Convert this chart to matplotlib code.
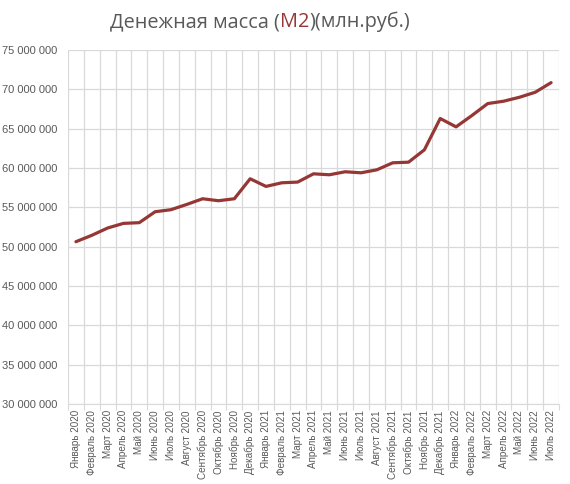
import matplotlib
matplotlib.use("Agg")
import matplotlib.pyplot as plt
from matplotlib.ticker import FuncFormatter, MultipleLocator
import numpy as np

months = ["Январь", "Февраль", "Март", "Апрель", "Май", "Июнь", "Июль", "Август",
          "Сентябрь", "Октябрь", "Ноябрь", "Декабрь"]
labels = [f"{months[i % 12]} {2020 + i // 12}" for i in range(31)]

values = [50.63, 51.44, 52.37, 52.96, 53.05, 54.44, 54.70, 55.37, 56.09, 55.84,
          56.09, 58.63, 57.66, 58.12, 58.21, 59.26, 59.14, 59.52, 59.39, 59.77,
          60.66, 60.74, 62.31, 66.29, 65.23, 66.67, 68.19, 68.49, 68.99, 69.63, 70.85]
values = [v * 1e6 for v in values]

title_parts = ["Денежная масса (", "M2", ")(млн.руб.)"]

W, H = 570, 484
fig = plt.figure(figsize=(W / 100, H / 100), dpi=100)
ax = fig.add_axes([68 / W, 1 - 404 / H, (559 - 68) / W, (404 - 50) / H])

x = np.arange(len(values))
ax.plot(x, values, color="#953735", lw=2.3, solid_joinstyle="round", solid_capstyle="round")

ax.set_xlim(-0.5, len(values) - 0.5)
ax.set_ylim(30e6, 75e6)
ax.yaxis.set_major_locator(MultipleLocator(5e6))
ax.yaxis.set_major_formatter(FuncFormatter(lambda v, p: f"{int(v):,}".replace(",", " ")))

ax.set_xticks(x)
ax.set_xticklabels(labels, rotation=90, fontsize=7.1, color="#595959", family="Liberation Sans")
ax.set_xticks(np.arange(-0.5, len(values), 1), minor=True)
ax.tick_params(axis="x", which="major", length=0, pad=4.5)
ax.tick_params(axis="x", which="minor", length=4, color="#d9d9d9", width=0.8)
ax.tick_params(axis="y", length=0, pad=8, labelsize=8, labelcolor="#595959")
for t in ax.get_yticklabels():
    t.set_family("Liberation Sans")

ax.grid(True, axis="y", color="#d9d9d9", lw=0.9)
ax.grid(True, axis="x", which="minor", color="#d9d9d9", lw=0.9)
ax.grid(False, axis="x", which="major")
ax.set_axisbelow(True)
for s in ax.spines.values():
    s.set_visible(False)
ax.spines["bottom"].set_visible(True)
ax.spines["bottom"].set_color("#d9d9d9")

# Title with coloured M2
fs = 14.3
colors = ["#595959", "#953735", "#595959"]
r = fig.canvas.get_renderer()
texts = []
for part, c in zip(title_parts, colors):
    texts.append(fig.text(0, 1 - 22 / H, part, fontsize=fs, color=c, family="Open Sans", va="center"))
widths = [t.get_window_extent(renderer=r).width for t in texts]
total = sum(widths)
xstart = (260 - total / 2)
pos = xstart
for t, w in zip(texts, widths):
    t.set_x(pos / W)
    pos += w

fig.savefig("out.png", dpi=100)
